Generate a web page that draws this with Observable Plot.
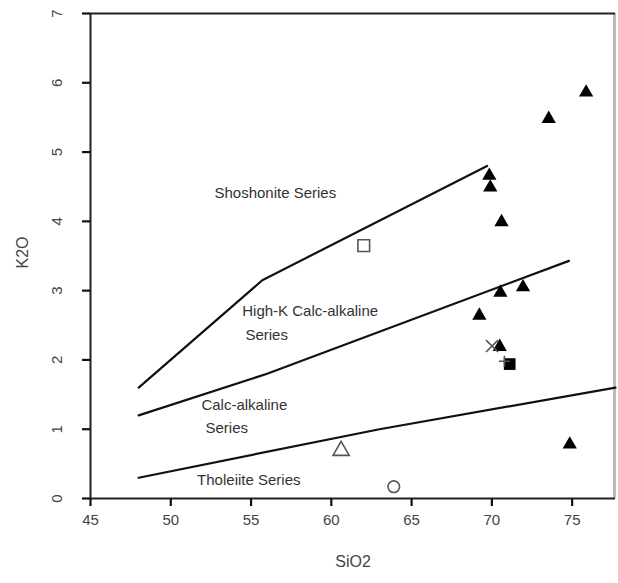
<!DOCTYPE html>
<html>
<head>
<meta charset="utf-8">
<script src="https://cdn.jsdelivr.net/npm/d3@7"></script>
<script src="https://cdn.jsdelivr.net/npm/@observablehq/plot@0.6"></script>
<style>
  html, body { margin: 0; padding: 0; background: #fff; }
  #chart svg { display: block; overflow: visible; }
</style>
</head>
<body>
<div id="chart"></div>
<script>
// Boundary lines
const shoX = [48, 55.7, 69.7];
const shoY = [1.6, 3.15, 4.8];
const hkX = [48, 56, 74.8];
const hkY = [1.2, 1.8, 3.43];
const thX = [48, 63, 77.7];
const thY = [0.3, 1.0, 1.6];

// Filled triangles
const triX = [75.87, 73.54, 69.84, 69.9, 70.6, 70.53, 71.94, 69.22, 70.49, 74.85];
const triY = [5.86, 5.48, 4.66, 4.49, 3.99, 2.97, 3.05, 2.64, 2.19, 0.78];

// Other samples
const otherX = [70.78, 70.01, 71.11, 62.02, 60.61, 63.89];
const otherY = [1.98, 2.2, 1.94, 3.65, 0.69, 0.17];
const otherSym = ["plus", "times", "square", "square", "triangle", "circle"];
const otherFill = ["none", "none", "black", "none", "none", "none"];

// Series labels
const labelText = ["Shoshonite Series", "High-K Calc-alkaline", "Series", "Calc-alkaline", "Series", "Tholeiite Series"];
const labelX = [52.72, 54.45, 54.65, 51.91, 52.16, 51.64];
const labelY = [4.40, 2.71, 2.36, 1.34, 1.01, 0.27];

// Ticks
const xTicks = [45, 50, 55, 60, 65, 70, 75];
const yTicks = [0, 1, 2, 3, 4, 5, 6, 7];

const boundaries = [
  ...shoX.map((x, i) => ({x, y: shoY[i], s: "sho"})),
  ...hkX.map((x, i) => ({x, y: hkY[i], s: "hk"})),
  ...thX.map((x, i) => ({x, y: thY[i], s: "th"}))
];
const tris = triX.map((x, i) => ({x, y: triY[i]}));
const others = otherX.map((x, i) => ({x, y: otherY[i], sym: otherSym[i], fill: otherFill[i]}));
const labels = labelText.map((t, i) => ({t, x: labelX[i], y: labelY[i]}));

const symR = {plus: 3.6, times: 5.5, square: 6.6, triangle: 6, circle: 5.8};

const W = 618, H = 583, mL = 90, mR = 3, mT = 13, mB = 85;
const frameH = H - mT - mB, frameW = W - mL - mR;
const font = "Liberation Sans, Arial, Helvetica, sans-serif";
const chart = Plot.plot({
  width: W,
  height: H,
  marginLeft: mL,
  marginRight: mR,
  marginTop: mT,
  marginBottom: mB,
  style: {fontFamily: font, fontSize: "15px", color: "#333", background: "white", overflow: "visible"},
  x: {type: "linear", domain: [45, 77.7], axis: null},
  y: {type: "linear", domain: [0, 7], axis: null},
  symbol: {type: "identity"},
  r: {type: "identity"},
  marks: [
    // frame
    Plot.ruleX([77.7], {stroke: "#bbb", strokeWidth: 3, dx: -1}),
    Plot.ruleY([7], {stroke: "#222", strokeWidth: 2}),
    Plot.ruleY([0], {stroke: "#222", strokeWidth: 2}),
    Plot.ruleX([45], {stroke: "#222", strokeWidth: 2}),
    // tick marks, 8px outward, as full-frame ticks inset to a short stub
    Plot.tickX(xTicks, {x: d => d, insetTop: frameH, insetBottom: -8, stroke: "#111", strokeWidth: 2.2}),
    Plot.tickY(yTicks, {y: d => d, insetRight: frameW, insetLeft: -8, stroke: "#111", strokeWidth: 2.2}),
    // tick labels
    Plot.text(xTicks, {x: d => d, y: 0, text: d => String(d), dy: 22, fontSize: 15, fill: "#444"}),
    Plot.text(yTicks, {x: 45, y: d => d, text: d => String(d), rotate: -90, dx: -33, fontSize: 15, fill: "#444"}),
    Plot.text(["SiO2"], {frameAnchor: "bottom", dy: 68, text: d => d, fontSize: 16, fill: "#444"}),
    Plot.text(["K2O"], {x: 45, y: 3.55, text: d => d, rotate: -90, dx: -68, fontSize: 16, fill: "#444"}),
    // boundary lines
    Plot.line(boundaries, {x: "x", y: "y", z: "s", stroke: "#111", strokeWidth: 2.2}),
    // labels
    Plot.text(labels, {x: "x", y: "y", text: "t", textAnchor: "start", fontSize: 15, fill: "#333"}),
    // points
    Plot.dot(tris, {x: "x", y: "y", symbol: "triangle", r: 5.3, fill: "black", stroke: "none"}),
    Plot.dot(others, {x: "x", y: "y", symbol: "sym", r: d => symR[d.sym], fill: "fill", stroke: d => d.fill === "black" ? "none" : "#555", strokeWidth: 1.6})
  ]
});
document.getElementById("chart").appendChild(chart);
</script>
</body>
</html>
